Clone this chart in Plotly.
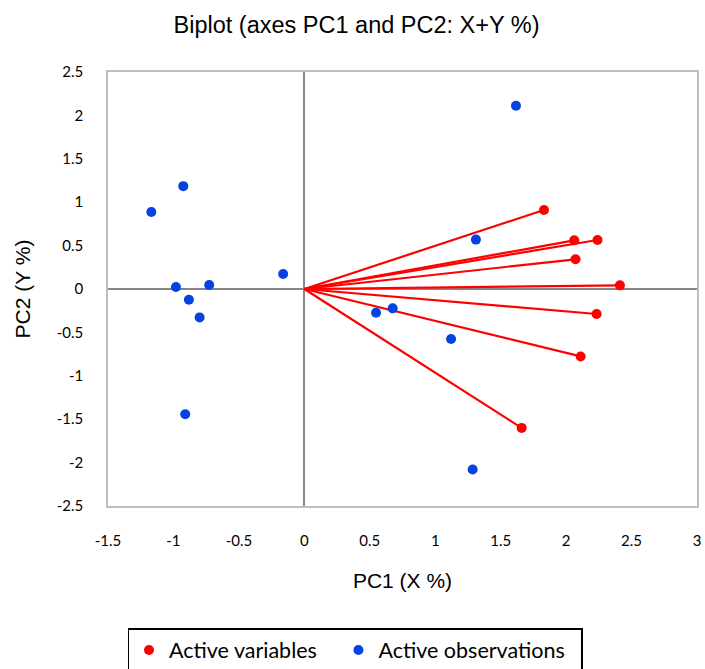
import plotly.graph_objects as go

# Active variables (loadings on PC1 / PC2)
var_pc1 = [1.831, 2.062, 2.240, 2.072, 2.411, 2.233, 2.111, 1.660]
var_pc2 = [0.911, 0.561, 0.565, 0.342, 0.042, -0.288, -0.777, -1.600]

# Active observations (scores on PC1 / PC2)
obs_pc1 = [-0.925, -1.169, -0.981, -0.727, -0.882, -0.162, -0.800, -0.910,
           0.548, 0.675, 1.617, 1.311, 1.121, 1.286]
obs_pc2 = [1.185, 0.888, 0.023, 0.046, -0.123, 0.173, -0.327, -1.442,
           -0.273, -0.223, 2.111, 0.569, -0.577, -2.080]

x_ticks = [-1.5, -1, -0.5, 0, 0.5, 1, 1.5, 2, 2.5, 3]
y_ticks = [-2.5, -2, -1.5, -1, -0.5, 0, 0.5, 1, 1.5, 2, 2.5]
x_range = [-1.5, 3]
y_range = [-2.5, 2.5]

RED = "#FF0000"
BLUE = "#0543E0"
FRAME = "#BFBFBF"
AXIS = "#868686"
TICKFONT = dict(family="Lato, Open Sans, sans-serif", size=15, color="#000000")
ARIAL = "Liberation Sans, Arial, sans-serif"
NBSP = "\u00a0"

# Vectors from origin to each variable
vx, vy = [], []
for a, b in zip(var_pc1, var_pc2):
    vx += [0, a, None]
    vy += [0, b, None]

fig = go.Figure()
fig.add_trace(go.Scatter(x=vx, y=vy, mode="lines", line=dict(color=RED, width=2.2),
                         showlegend=False, hoverinfo="skip"))
fig.add_trace(go.Scatter(x=var_pc1, y=var_pc2, mode="markers",
                         name="Active variables" + NBSP * 3,
                         marker=dict(color=RED, size=10)))
fig.add_trace(go.Scatter(x=obs_pc1, y=obs_pc2, mode="markers",
                         name="Active observations" + NBSP * 2,
                         marker=dict(color=BLUE, size=10)))

pos0 = (0 - x_range[0]) / (x_range[1] - x_range[0])

fig.update_layout(
    width=705, height=669,
    margin=dict(l=108, r=8, t=72, b=163, autoexpand=False),
    paper_bgcolor="white", plot_bgcolor="white",
    title=dict(text="Biplot (axes PC1 and PC2: X+Y %)", x=356.5 / 705, xref="container",
               xanchor="center", y=1 - 25 / 669, yref="container", yanchor="middle",
               font=dict(family=ARIAL, size=23.5, color="#000000")),
    xaxis=dict(range=x_range, tickvals=x_ticks, ticktext=[f"{v:g}" for v in x_ticks],
               showgrid=False, zeroline=True, zerolinecolor=AXIS, zerolinewidth=2,
               showline=True, mirror=True, linecolor=FRAME, linewidth=1.5,
               ticks="", ticklabelstandoff=20, tickfont=TICKFONT,
               title=dict(text="PC1 (X %)", standoff=26,
                          font=dict(family=ARIAL, size=21, color="#000000"))),
    yaxis=dict(range=y_range, tickvals=y_ticks, ticktext=[f"{v:g}" for v in y_ticks],
               showgrid=False, zeroline=True, zerolinecolor=AXIS, zerolinewidth=2,
               showline=True, mirror=True, linecolor=FRAME, linewidth=1.5,
               ticks="", ticklabelstandoff=20, tickfont=TICKFONT,
               title=dict(text="PC2 (Y %)", standoff=20,
                          font=dict(family=ARIAL, size=21, color="#000000"))),
    yaxis2=dict(range=y_range, tickvals=y_ticks, overlaying="y", anchor="free", position=pos0,
                side="left", ticks="outside", ticklen=6, tickwidth=2, tickcolor=AXIS,
                showticklabels=False, showgrid=False, zeroline=False,
                showline=True, linecolor=AXIS, linewidth=2),
    yaxis3=dict(range=y_range, tickvals=y_ticks, overlaying="y", anchor="free", position=pos0,
                side="left", ticks="inside", ticklen=6, tickwidth=2, tickcolor=AXIS,
                showticklabels=False, showgrid=False, zeroline=False, showline=False),
    legend=dict(orientation="h", xref="container", x=355 / 705, xanchor="center",
                yref="container", y=(669 - 628) / 669, yanchor="top",
                bordercolor="#000000", borderwidth=1.5, bgcolor="white",
                font=dict(family="Lato, Open Sans, sans-serif", size=21.5, color="#000000"),
                itemwidth=30),
)

fig.write_html("out.html")
